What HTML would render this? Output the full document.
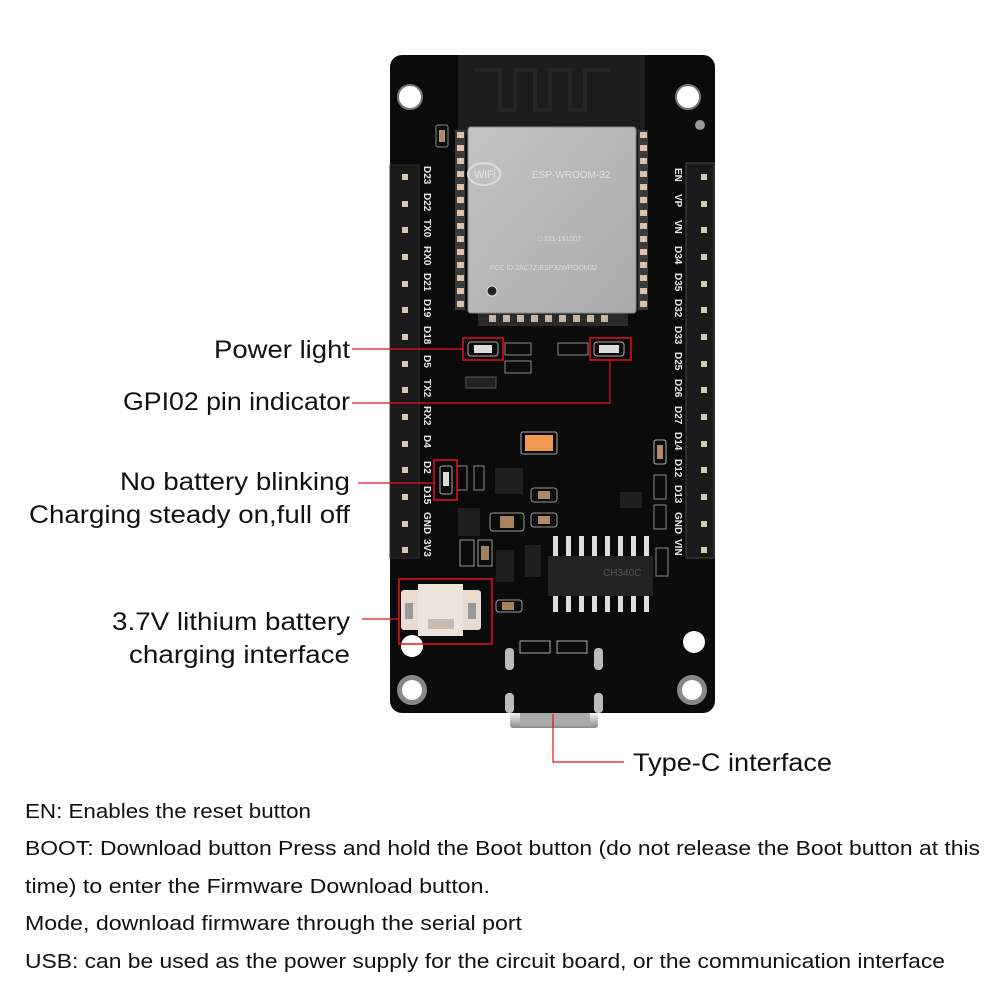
<!DOCTYPE html>
<html><head><meta charset="utf-8"><style>
html,body{margin:0;padding:0;background:#fff;}
svg{display:block;}
.lb{font-family:"Liberation Sans",sans-serif;font-size:25px;fill:#111;}
.bt{font-family:"Liberation Sans",sans-serif;font-size:20px;fill:#111;}
.pl{font-family:"Liberation Sans",sans-serif;font-size:10px;font-weight:bold;fill:#e8e8e8;}
.sl{font-family:"Liberation Sans",sans-serif;font-size:7px;font-weight:bold;fill:#ddd;}
</style></head><body>
<svg width="1000" height="1000" viewBox="0 0 1000 1000" xmlns="http://www.w3.org/2000/svg">
<defs>
<linearGradient id="sh" x1="0" y1="0" x2="1" y2="1"><stop offset="0" stop-color="#c4c4c4"/><stop offset="1" stop-color="#a9a9a9"/></linearGradient>
<linearGradient id="us" x1="0" y1="0" x2="0" y2="1"><stop offset="0" stop-color="#999"/><stop offset="0.5" stop-color="#eee"/><stop offset="1" stop-color="#888"/></linearGradient>
</defs>
<!-- USB-C -->
<rect x="510" y="700" width="88" height="28" rx="3" fill="url(#us)"/>
<rect x="520" y="712" width="70" height="14" fill="#aaa"/>
<!-- board -->
<rect x="390" y="55" width="325" height="658" rx="12" fill="#0b0b0b"/>
<!-- antenna -->
<rect x="458" y="55" width="187" height="80" fill="#1d1d1d"/>
<path d="M475 70 h25 v40 h15 v-40 h20 v40 h15 v-40 h20 v40 h15 v-40 h25" fill="none" stroke="#262626" stroke-width="4"/>
<!-- holes top -->
<circle cx="410" cy="97" r="12" fill="#fff" stroke="#777" stroke-width="2"/>
<circle cx="688" cy="97" r="12" fill="#fff" stroke="#777" stroke-width="2"/>
<circle cx="700" cy="125" r="5" fill="#999"/>
<!-- module pads -->
<g fill="#c9a890">
<rect x="455" y="130" width="10" height="180" fill="#3a3a3a"/>
<rect x="638" y="130" width="10" height="180" fill="#3a3a3a"/>
</g>
<g id="pads" fill="#d8c2ae">
<rect x="457" y="132" width="7" height="6"/><rect x="457" y="145" width="7" height="6"/><rect x="457" y="158" width="7" height="6"/><rect x="457" y="171" width="7" height="6"/><rect x="457" y="184" width="7" height="6"/><rect x="457" y="197" width="7" height="6"/><rect x="457" y="210" width="7" height="6"/><rect x="457" y="223" width="7" height="6"/><rect x="457" y="236" width="7" height="6"/><rect x="457" y="249" width="7" height="6"/><rect x="457" y="262" width="7" height="6"/><rect x="457" y="275" width="7" height="6"/><rect x="457" y="288" width="7" height="6"/><rect x="457" y="301" width="7" height="6"/>
<rect x="640" y="132" width="7" height="6"/><rect x="640" y="145" width="7" height="6"/><rect x="640" y="158" width="7" height="6"/><rect x="640" y="171" width="7" height="6"/><rect x="640" y="184" width="7" height="6"/><rect x="640" y="197" width="7" height="6"/><rect x="640" y="210" width="7" height="6"/><rect x="640" y="223" width="7" height="6"/><rect x="640" y="236" width="7" height="6"/><rect x="640" y="249" width="7" height="6"/><rect x="640" y="262" width="7" height="6"/><rect x="640" y="275" width="7" height="6"/><rect x="640" y="288" width="7" height="6"/><rect x="640" y="301" width="7" height="6"/>
</g>
<rect x="478" y="310" width="150" height="16" fill="#2a2a2a"/>
<g fill="#c9b5a4"><rect x="489" y="315" width="7" height="7"/><rect x="503" y="315" width="7" height="7"/><rect x="517" y="315" width="7" height="7"/><rect x="531" y="315" width="7" height="7"/><rect x="545" y="315" width="7" height="7"/><rect x="559" y="315" width="7" height="7"/><rect x="573" y="315" width="7" height="7"/><rect x="587" y="315" width="7" height="7"/><rect x="601" y="315" width="7" height="7"/></g>
<!-- shield -->
<rect x="468" y="127" width="168" height="186" rx="3" fill="url(#sh)" stroke="#888"/>
<ellipse cx="484" cy="174" rx="16" ry="11" fill="none" stroke="#ddd" stroke-width="2"/>
<text x="474" y="178" font-family="Liberation Sans" font-size="11" fill="#e4e4e4">WiFi</text>
<text x="532" y="178" font-family="Liberation Sans" font-size="10" fill="#e0e0e0">ESP-WROOM-32</text>
<text x="538" y="241" font-family="Liberation Sans" font-size="7" fill="#ddd">□ 211-161007</text>
<text x="490" y="270" font-family="Liberation Sans" font-size="7" fill="#ddd">FCC ID:2AC7Z-ESP32WROOM32</text>
<circle cx="492" cy="291" r="5" fill="#222" stroke="#ddd"/>
<!-- C7 -->
<rect x="436" y="125" width="12" height="22" rx="2" fill="none" stroke="#888"/><rect x="439" y="130" width="6" height="12" fill="#b08a6a"/>
<!-- headers -->
<rect x="390" y="165" width="29" height="393" fill="#1a1a1a" stroke="#333"/>
<rect x="686" y="163" width="28" height="395" fill="#1a1a1a" stroke="#444"/>
<g fill="#d8c8b0">
<rect x="402" y="174" width="6" height="6"/><rect x="402" y="201" width="6" height="6"/><rect x="402" y="227" width="6" height="6"/><rect x="402" y="254" width="6" height="6"/><rect x="402" y="281" width="6" height="6"/><rect x="402" y="307" width="6" height="6"/><rect x="402" y="334" width="6" height="6"/><rect x="402" y="361" width="6" height="6"/><rect x="402" y="387" width="6" height="6"/><rect x="402" y="414" width="6" height="6"/><rect x="402" y="441" width="6" height="6"/><rect x="402" y="467" width="6" height="6"/><rect x="402" y="494" width="6" height="6"/><rect x="402" y="521" width="6" height="6"/><rect x="402" y="547" width="6" height="6"/>
<rect x="701" y="174" width="6" height="6"/><rect x="701" y="201" width="6" height="6"/><rect x="701" y="227" width="6" height="6"/><rect x="701" y="254" width="6" height="6"/><rect x="701" y="281" width="6" height="6"/><rect x="701" y="307" width="6" height="6"/><rect x="701" y="334" width="6" height="6"/><rect x="701" y="361" width="6" height="6"/><rect x="701" y="387" width="6" height="6"/><rect x="701" y="414" width="6" height="6"/><rect x="701" y="441" width="6" height="6"/><rect x="701" y="467" width="6" height="6"/><rect x="701" y="494" width="6" height="6"/><rect x="701" y="521" width="6" height="6"/><rect x="701" y="547" width="6" height="6"/>
</g>
<!-- pin labels -->
<g class="pl">
<text transform="translate(424,166) rotate(90)">D23</text><text transform="translate(424,193) rotate(90)">D22</text><text transform="translate(424,219) rotate(90)">TX0</text><text transform="translate(424,246) rotate(90)">RX0</text><text transform="translate(424,273) rotate(90)">D21</text><text transform="translate(424,299) rotate(90)">D19</text><text transform="translate(424,326) rotate(90)">D18</text><text transform="translate(424,355) rotate(90)">D5</text><text transform="translate(424,379) rotate(90)">TX2</text><text transform="translate(424,406) rotate(90)">RX2</text><text transform="translate(424,435) rotate(90)">D4</text><text transform="translate(424,461) rotate(90)">D2</text><text transform="translate(424,486) rotate(90)">D15</text><text transform="translate(424,512) rotate(90)">GND</text><text transform="translate(424,539) rotate(90)">3V3</text>
<text transform="translate(675,168) rotate(90)">EN</text><text transform="translate(675,194) rotate(90)">VP</text><text transform="translate(675,220) rotate(90)">VN</text><text transform="translate(675,246) rotate(90)">D34</text><text transform="translate(675,273) rotate(90)">D35</text><text transform="translate(675,299) rotate(90)">D32</text><text transform="translate(675,326) rotate(90)">D33</text><text transform="translate(675,352) rotate(90)">D25</text><text transform="translate(675,379) rotate(90)">D26</text><text transform="translate(675,406) rotate(90)">D27</text><text transform="translate(675,432) rotate(90)">D14</text><text transform="translate(675,459) rotate(90)">D12</text><text transform="translate(675,485) rotate(90)">D13</text><text transform="translate(675,512) rotate(90)">GND</text><text transform="translate(675,539) rotate(90)">VIN</text>
</g>
<!-- LEDs and small parts -->
<rect x="468" y="342" width="30" height="14" rx="3" fill="none" stroke="#aaa"/><rect x="474" y="345" width="18" height="8" fill="#ddd"/>
<rect x="594" y="342" width="30" height="14" rx="3" fill="none" stroke="#aaa"/><rect x="599" y="345" width="20" height="8" fill="#ddd"/>
<rect x="505" y="343" width="26" height="12" fill="none" stroke="#888"/><rect x="505" y="361" width="26" height="12" fill="none" stroke="#888"/>
<rect x="558" y="343" width="30" height="12" fill="none" stroke="#888"/>
<rect x="466" y="377" width="30" height="11" fill="#222" stroke="#555"/>
<rect x="440" y="466" width="12" height="28" rx="2" fill="none" stroke="#aaa"/><rect x="443" y="472" width="6" height="14" fill="#ddd"/>
<rect x="457" y="466" width="10" height="24" fill="none" stroke="#888"/><rect x="474" y="466" width="10" height="24" fill="none" stroke="#888"/>
<rect x="521" y="432" width="36" height="22" rx="2" fill="none" stroke="#aaa"/><rect x="525" y="435" width="28" height="16" fill="#f09a50"/>
<rect x="495" y="468" width="28" height="26" fill="#1f1f1f"/>
<rect x="531" y="488" width="26" height="14" rx="3" fill="none" stroke="#999"/><rect x="538" y="491" width="12" height="8" fill="#b5896a"/>
<rect x="531" y="513" width="26" height="14" rx="3" fill="none" stroke="#999"/><rect x="538" y="516" width="12" height="8" fill="#b5896a"/>
<rect x="490" y="513" width="34" height="18" rx="3" fill="none" stroke="#999"/><rect x="500" y="516" width="14" height="12" fill="#a8825f"/>
<rect x="458" y="508" width="22" height="28" fill="#1e1e1e"/>
<rect x="496" y="550" width="18" height="32" fill="#1e1e1e"/><rect x="525" y="545" width="16" height="32" fill="#1e1e1e"/>
<rect x="460" y="540" width="14" height="26" fill="none" stroke="#999"/><rect x="478" y="540" width="14" height="26" fill="none" stroke="#999"/><rect x="481" y="546" width="8" height="14" fill="#a08060"/>
<rect x="496" y="600" width="26" height="12" rx="3" fill="none" stroke="#999"/><rect x="502" y="602" width="12" height="8" fill="#a8825f"/>
<rect x="620" y="492" width="22" height="16" fill="#1f1f1f"/>
<rect x="654" y="440" width="12" height="24" rx="2" fill="none" stroke="#aaa"/><rect x="657" y="445" width="6" height="14" fill="#b5896a"/>
<rect x="654" y="475" width="12" height="24" fill="none" stroke="#888"/><rect x="654" y="505" width="12" height="24" fill="none" stroke="#888"/>
<rect x="656" y="548" width="12" height="28" fill="none" stroke="#888"/>
<!-- CH340C -->
<g fill="#ddd"><rect x="553" y="536" width="5" height="20"/><rect x="566" y="536" width="5" height="20"/><rect x="579" y="536" width="5" height="20"/><rect x="592" y="536" width="5" height="20"/><rect x="605" y="536" width="5" height="20"/><rect x="618" y="536" width="5" height="20"/><rect x="631" y="536" width="5" height="20"/><rect x="644" y="536" width="5" height="20"/>
<rect x="553" y="594" width="5" height="18"/><rect x="566" y="594" width="5" height="18"/><rect x="579" y="594" width="5" height="18"/><rect x="592" y="594" width="5" height="18"/><rect x="605" y="594" width="5" height="18"/><rect x="618" y="594" width="5" height="18"/><rect x="631" y="594" width="5" height="18"/><rect x="644" y="594" width="5" height="18"/></g>
<rect x="548" y="556" width="105" height="40" fill="#232323"/>
<text x="603" y="576" font-family="Liberation Sans" font-size="10" fill="#555">CH340C</text>
<!-- battery connector -->
<rect x="401" y="590" width="80" height="40" rx="3" fill="#e8dcd2"/>
<rect x="418" y="584" width="45" height="52" fill="#efe4db"/>
<rect x="428" y="619" width="26" height="10" fill="#c9bbb0"/>
<rect x="405" y="603" width="8" height="16" fill="#999"/><rect x="468" y="603" width="8" height="16" fill="#999"/>
<!-- R1 R2 -->
<rect x="520" y="641" width="30" height="12" fill="none" stroke="#aaa"/><rect x="557" y="641" width="30" height="12" fill="none" stroke="#aaa"/>
<!-- slots -->
<rect x="505" y="648" width="9" height="22" rx="4" fill="#bbb"/><rect x="594" y="648" width="9" height="22" rx="4" fill="#bbb"/>
<rect x="505" y="693" width="9" height="20" rx="4" fill="#bbb"/><rect x="594" y="693" width="9" height="20" rx="4" fill="#bbb"/>
<!-- holes bottom -->
<circle cx="412" cy="646" r="11" fill="#fff"/>
<circle cx="694" cy="642" r="11" fill="#fff"/>
<circle cx="412" cy="690" r="15" fill="#888"/><circle cx="412" cy="690" r="10" fill="#fff"/>
<circle cx="692" cy="690" r="15" fill="#888"/><circle cx="692" cy="690" r="10" fill="#fff"/>
<!-- red boxes -->
<g fill="none" stroke="#e8101a" stroke-width="1.5">
<rect x="463" y="338" width="40" height="22"/>
<rect x="590" y="338" width="41" height="22"/>
<rect x="434" y="460" width="23" height="40"/>
<rect x="399" y="579" width="93" height="65"/>
</g>
<g fill="none" stroke="#e8101a" stroke-width="1.2">
<line x1="352" y1="349" x2="463" y2="349"/>
<polyline points="352,403 610,403 610,360"/>
<line x1="358" y1="483" x2="434" y2="483"/>
<line x1="362" y1="619" x2="399" y2="619"/>
<polyline points="553,714 553,762 624,762"/>
</g>
<!-- labels -->
<g class="lb" text-anchor="end">
<text x="350" y="358" textLength="136" lengthAdjust="spacingAndGlyphs">Power light</text>
<text x="350" y="410" textLength="227" lengthAdjust="spacingAndGlyphs">GPI02 pin indicator</text>
<text x="350" y="490" textLength="230" lengthAdjust="spacingAndGlyphs">No battery blinking</text>
<text x="350" y="523" textLength="321" lengthAdjust="spacingAndGlyphs">Charging steady on,full off</text>
<text x="350" y="630" textLength="238" lengthAdjust="spacingAndGlyphs">3.7V lithium battery</text>
<text x="350" y="663" textLength="221" lengthAdjust="spacingAndGlyphs">charging interface</text>
</g>
<text class="lb" x="633" y="771" textLength="199" lengthAdjust="spacingAndGlyphs">Type-C interface</text>
<g class="bt">
<text x="25" y="818" textLength="286" lengthAdjust="spacingAndGlyphs">EN: Enables the reset button</text>
<text x="25" y="855" textLength="955" lengthAdjust="spacingAndGlyphs">BOOT: Download button Press and hold the Boot button (do not release the Boot button at this</text>
<text x="25" y="893" textLength="465" lengthAdjust="spacingAndGlyphs">time) to enter the Firmware Download button.</text>
<text x="25" y="930" textLength="497" lengthAdjust="spacingAndGlyphs">Mode, download firmware through the serial port</text>
<text x="25" y="968" textLength="920" lengthAdjust="spacingAndGlyphs">USB: can be used as the power supply for the circuit board, or the communication interface</text>
</g>
</svg>
</body></html>
